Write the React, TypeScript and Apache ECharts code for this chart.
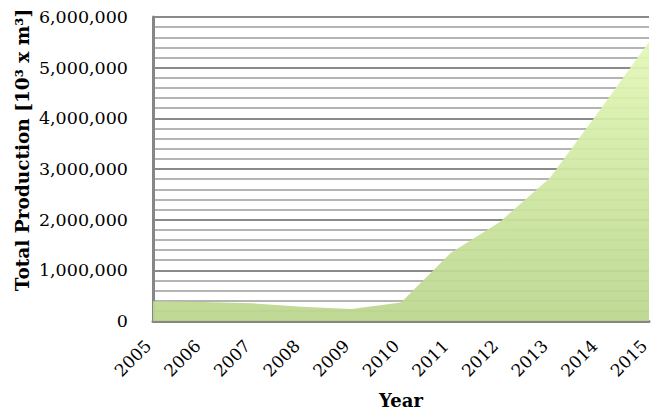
import React, { useEffect, useRef } from "react";
import * as echarts from "echarts";

const years = ["2005", "2006", "2007", "2008", "2009", "2010", "2011", "2012", "2013", "2014", "2015"];
const production = [390000, 375000, 350000, 280000, 235000, 365000, 1340000, 1960000, 2820000, 4150000, 5510000];

const FONT = "'DejaVu Serif', 'Liberation Serif', serif";

export default function App() {
  const ref = useRef<HTMLDivElement>(null);

  useEffect(() => {
    document.body.style.margin = "0";
    const chart = echarts.init(ref.current!, undefined, { renderer: "svg" });
    chart.setOption({
      animation: false,
      grid: { left: 153, right: 2, top: 17, bottom: 90, outerBoundsMode: "none", containLabel: false },
      xAxis: {
        type: "category",
        data: years,
        boundaryGap: false,
        name: "Year",
        nameLocation: "middle",
        nameGap: 70,
        nameTextStyle: { fontFamily: FONT, fontWeight: "bold", fontSize: 18, color: "#000" },
        axisLine: { lineStyle: { color: "#868686", width: 3 } },
        axisTick: { show: false },
        axisLabel: {
          rotate: 45,
          margin: 17,
          padding: [0, 7, 0, 0],
          fontFamily: FONT,
          fontSize: 17,
          color: "#000",
        },
        splitLine: { show: false },
      },
      yAxis: {
        type: "value",
        min: 0,
        max: 6000000,
        interval: 1000000,
        axisLine: { show: true, lineStyle: { color: "#868686", width: 3 } },
        axisTick: { show: false },
        axisLabel: {
          margin: 25,
          fontFamily: FONT,
          fontSize: 17.5,
          color: "#000",
          formatter: (v: number) => v.toLocaleString("en-US"),
        },
        splitLine: { show: true, lineStyle: { color: "#8a8a8a", width: 2 } },
        minorTick: { show: false, splitNumber: 5 },
        minorSplitLine: { show: true, lineStyle: { color: "#b4b4b4", width: 2 } },
      },
      graphic: [
        {
          type: "text",
          x: 22,
          y: 150,
          rotation: Math.PI / 2,
          style: {
            text: "Total Production [10³ x m³]",
            fontFamily: FONT,
            fontWeight: "bold",
            fontSize: 18.5,
            fill: "#000",
            align: "center",
            verticalAlign: "middle",
          },
        },
      ],
      series: [
        {
          type: "line",
          data: production,
          symbol: "none",
          lineStyle: { width: 0 },
          areaStyle: {
            opacity: 0.93,
            color: new echarts.graphic.LinearGradient(0, 0, 0, 1, [
              { offset: 0, color: "#e2f8b6" },
              { offset: 1, color: "#bbd68d" },
            ]),
          },
        },
      ],
    });
    return () => chart.dispose();
  }, []);

  return <div ref={ref} style={{ width: 651, height: 411 }} />;
}
